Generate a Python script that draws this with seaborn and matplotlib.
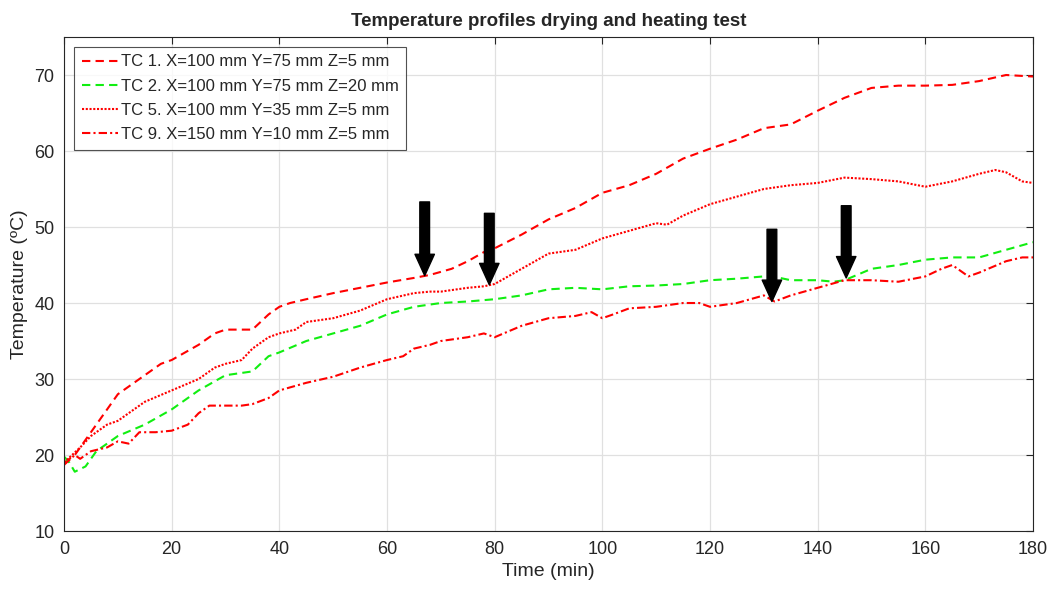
import numpy as np
import pandas as pd
import seaborn as sns
import matplotlib.pyplot as plt

# time (min) and temperature (C)
t1 = [0, 2, 5, 8, 10, 13, 15, 18, 20, 25, 28, 30, 33, 35, 38, 40, 42, 45, 50, 55, 60, 65, 68, 72, 75, 78, 80,
      85, 90, 95, 100, 105, 110, 115, 120, 125, 130, 135, 140, 145, 150, 155, 160, 165, 170, 175, 180]
tc1 = [19, 20, 23, 26, 28, 29.5, 30.5, 32, 32.5, 34.5, 36, 36.5, 36.5, 36.5, 38.5, 39.5, 40, 40.5, 41.3, 42, 42.7,
       43.3, 43.7, 44.5, 45.5, 46.7, 47.2, 49, 51, 52.5, 54.5, 55.5, 57, 59, 60.3, 61.5, 63, 63.5, 65.3, 67, 68.3,
       68.6, 68.6, 68.7, 69.2, 70, 69.8]

t2 = [0, 1, 2, 4, 6, 10, 15, 20, 25, 30, 35, 38, 40, 45, 50, 55, 60, 65, 70, 75, 80, 85, 90, 95, 100, 105, 110,
      115, 120, 125, 130, 133, 135, 140, 143, 145, 150, 155, 160, 165, 170, 175, 180]
tc2 = [19.8, 19, 17.8, 18.5, 20.5, 22.5, 24, 26, 28.5, 30.5, 31, 33, 33.5, 35, 36, 37, 38.5, 39.5, 40, 40.2, 40.5,
       41, 41.8, 42, 41.8, 42.2, 42.3, 42.5, 43, 43.2, 43.5, 43.3, 43, 43, 42.8, 43, 44.5, 45, 45.7, 46, 46, 47, 48]

t5 = [0, 3, 5, 8, 10, 13, 15, 20, 25, 28, 30, 33, 35, 38, 40, 43, 45, 50, 55, 60, 65, 68, 70, 75, 78, 80, 85, 90,
      95, 100, 105, 110, 112, 115, 120, 125, 130, 135, 140, 145, 150, 155, 160, 165, 170, 173, 175, 178, 180]
tc5 = [19, 21, 22.5, 24, 24.5, 26, 27, 28.5, 30, 31.5, 32, 32.5, 34, 35.5, 36, 36.5, 37.5, 38, 39, 40.5, 41.3,
       41.5, 41.5, 42, 42.2, 42.5, 44.5, 46.5, 47, 48.5, 49.5, 50.5, 50.3, 51.5, 53, 54, 55, 55.5, 55.8, 56.5, 56.3,
       56, 55.3, 56, 57, 57.5, 57.2, 56, 55.8]

t9 = [0, 2, 3, 5, 8, 10, 12, 14, 17, 20, 23, 25, 27, 30, 33, 35, 38, 40, 45, 50, 55, 60, 63, 65, 68, 70, 75, 78,
      80, 85, 90, 95, 98, 100, 102, 105, 110, 115, 118, 120, 125, 130, 132, 135, 140, 145, 150, 155, 160, 163, 165,
      168, 170, 175, 178, 180]
tc9 = [18.7, 20, 19.5, 20.5, 21, 21.8, 21.5, 23, 23, 23.2, 24, 25.5, 26.5, 26.5, 26.5, 26.7, 27.5, 28.5, 29.5,
       30.3, 31.5, 32.5, 33, 34, 34.5, 35, 35.5, 36, 35.5, 37, 38, 38.3, 38.8, 38, 38.5, 39.3, 39.5, 40, 40, 39.5,
       40, 41, 40.2, 41, 42, 43, 43, 42.8, 43.5, 44.5, 45, 43.5, 44, 45.5, 46, 46]

labels = ["TC 1. X=100 mm Y=75 mm Z=5 mm", "TC 2. X=100 mm Y=75 mm Z=20 mm",
          "TC 5. X=100 mm Y=35 mm Z=5 mm", "TC 9. X=150 mm Y=10 mm Z=5 mm"]

# arrows: (x, y tail, y tip)
arrow_x = [67, 79, 131.5, 145.3]
arrow_top = [53.3, 51.8, 49.7, 52.8]
arrow_tip = [43.6, 42.4, 40.2, 43.3]

sns.set_theme(style="white")
plt.rcParams['font.family'] = ['Liberation Sans', 'DejaVu Sans']

fig = plt.figure(figsize=(10.53, 5.92), dpi=100)
ax = fig.add_axes([0.0608, 0.103, 0.9202, 0.8345])

sns.lineplot(x=t1, y=tc1, ax=ax, color='#ff0000', linestyle=(0, (4, 2.5)), linewidth=1.5, label=labels[0])
sns.lineplot(x=t2, y=tc2, ax=ax, color='#11ee11', linestyle=(0, (4, 2.5)), linewidth=1.5, label=labels[1])
sns.lineplot(x=t5, y=tc5, ax=ax, color='#ff0000', linestyle=(0, (1, 0.8)), linewidth=1.5, label=labels[2])
sns.lineplot(x=t9, y=tc9, ax=ax, color='#ff0000', linestyle=(0, (4, 1.5, 1, 1.5)), linewidth=1.5, label=labels[3])

for x, y0, y1 in zip(arrow_x, arrow_top, arrow_tip):
    ax.annotate("", xy=(x, y1), xytext=(x, y0),
                arrowprops=dict(arrowstyle="simple,head_length=1.1,head_width=1.0,tail_width=0.5",
                                color='black', shrinkA=0, shrinkB=0, mutation_scale=14))

ax.set_xlim(0, 180)
ax.set_ylim(10, 75)
ax.set_xticks(np.arange(0, 181, 20))
ax.set_yticks(np.arange(10, 71, 10))
ax.grid(True, color='#e0e0e0', linewidth=0.9)
for s in ax.spines.values():
    s.set_color('#262626')
    s.set_linewidth(0.8)
ax.tick_params(direction='in', length=5, width=0.8, colors='#262626', labelsize=13,
               top=True, right=True, labelcolor='#262626', pad=7)
ax.set_xlabel("Time (min)", fontsize=14, color='#262626', labelpad=4)
ax.set_ylabel("Temperature (ºC)", fontsize=14, color='#262626', labelpad=4)
ax.set_title("Temperature profiles drying and heating test", fontsize=13.5, fontweight='bold', pad=8)

leg = ax.legend(loc='upper left', bbox_to_anchor=(0.0, 1.0), fontsize=12, frameon=True, fancybox=False,
                handlelength=2.2, handletextpad=0.15, labelspacing=0.55, borderpad=0.45, borderaxespad=0.6)
leg.get_frame().set_edgecolor('#262626')
leg.get_frame().set_linewidth(0.8)

plt.savefig("out.png", dpi=100)
